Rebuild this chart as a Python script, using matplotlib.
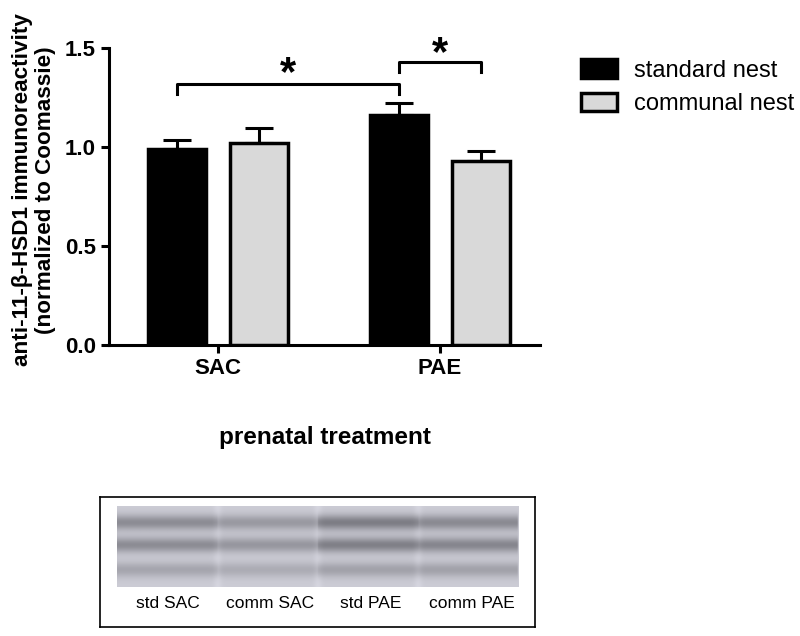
import numpy as np
import matplotlib
matplotlib.use("Agg")
import matplotlib.pyplot as plt

plt.rcParams['font.family'] = ['Liberation Sans', 'DejaVu Sans']

# data
groups = ["SAC", "PAE"]
series = ["standard nest", "communal nest"]
means_std = [0.99, 1.16]
means_comm = [1.02, 0.93]
sem_std = [0.045, 0.06]
sem_comm = [0.075, 0.05]
colors = ["#000000", "#d9d9d9"]

# blot lanes: band darkness per lane (top, middle, bottom band)
lane_labels = ["std SAC", "comm SAC", "std PAE", "comm PAE"]
band_pos = [0.20, 0.48, 0.79]
band_dark = [[0.50, 0.50, 0.30],
             [0.40, 0.42, 0.25],
             [0.62, 0.60, 0.33],
             [0.52, 0.55, 0.33]]

fig = plt.figure(figsize=(8, 6.36), dpi=100)
ax = fig.add_axes([0.13625, 0.4575, 0.53875, 0.467])

x = np.arange(len(groups))
w = 0.26
off = 0.185
b1 = ax.bar(x - off, means_std, w, color=colors[0], edgecolor="black", linewidth=2.5, zorder=3, label=series[0])
b2 = ax.bar(x + off, means_comm, w, color=colors[1], edgecolor="black", linewidth=2.5, zorder=3, label=series[1])
ax.errorbar(x - off, means_std, yerr=[[0, 0], sem_std], fmt="none", ecolor="black",
            elinewidth=2.2, capsize=10, capthick=2.2, zorder=2)
ax.errorbar(x + off, means_comm, yerr=[[0, 0], sem_comm], fmt="none", ecolor="black",
            elinewidth=2.2, capsize=10, capthick=2.2, zorder=2)

ax.set_xlim(-0.49, 1.45)
ax.set_ylim(0, 1.5)
ax.set_yticks([0, 0.5, 1.0, 1.5])
ax.set_yticklabels(["0.0", "0.5", "1.0", "1.5"])
ax.set_xticks(x)
ax.set_xticklabels(groups)
for s in ["top", "right"]:
    ax.spines[s].set_visible(False)
for s in ["left", "bottom"]:
    ax.spines[s].set_linewidth(2.2)
ax.tick_params(width=2.2, length=6, labelsize=16)
for t in ax.get_xticklabels() + ax.get_yticklabels():
    t.set_fontweight("bold")
ax.set_ylabel("anti-11-\u03b2-HSD1 immunoreactivity\n(normalized to Coomassie)",
              fontsize=16.2, fontweight="bold", linespacing=1.12)
ax.yaxis.set_label_coords(-0.122, 0.522)
ax.set_xlabel("prenatal treatment", fontsize=17.5, fontweight="bold", labelpad=34)

# significance brackets
def bracket(x0, x1, y, drop, ystar):
    ax.plot([x0, x0, x1, x1], [y - drop, y, y, y - drop], color="black", lw=2.2, clip_on=False)
    ax.text((x0 + x1) / 2, ystar, "*", ha="center", va="center", fontsize=30,
            fontweight="bold", clip_on=False)

bracket(0 - off, 1 - off, 1.32, 0.05, 1.37)
bracket(1 - off, 1 + off, 1.43, 0.05, 1.47)

fig.legend(handles=[b1, b2], labels=series, loc="upper left", bbox_to_anchor=(0.70, 0.94),
           frameon=False, fontsize=17, handlelength=1.5, handleheight=0.85,
           handletextpad=0.72, labelspacing=0.45)

# western blot panel
bx = fig.add_axes([0.125, 0.0142, 0.544, 0.2044])
bx.set_xlim(100, 535)
bx.set_ylim(627, 497)
bx.set_xticks([])
bx.set_yticks([])
for s in bx.spines.values():
    s.set_linewidth(1.2)

nr, nc = 81, 400
yy = np.linspace(0, 1, nr)[:, None]
xx = np.linspace(0, 1, nc)[None, :]
img = np.full((nr, nc), 0.80)
lane_w = 1.0 / len(lane_labels)
for i, dk in enumerate(band_dark):
    lane = (xx >= i * lane_w) & (xx < (i + 1) * lane_w)
    for p, d in zip(band_pos, dk):
        img -= lane * d * 0.5 * np.exp(-((yy - p) / 0.095) ** 2)
for i in range(1, len(lane_labels)):
    img += 0.04 * np.exp(-((xx - i * lane_w) / 0.01) ** 2)
rgb = np.dstack([img, img, img * 1.02 + 0.02]).clip(0, 1)
bx.imshow(rgb, extent=[117, 518, 587, 506], aspect="auto", interpolation="bicubic")
lane_x = [168, 270, 371, 472]
for lx, lab in zip(lane_x, lane_labels):
    bx.text(lx, 604, lab, ha="center", va="center", fontsize=12.5)

fig.savefig("out.png", dpi=100)
